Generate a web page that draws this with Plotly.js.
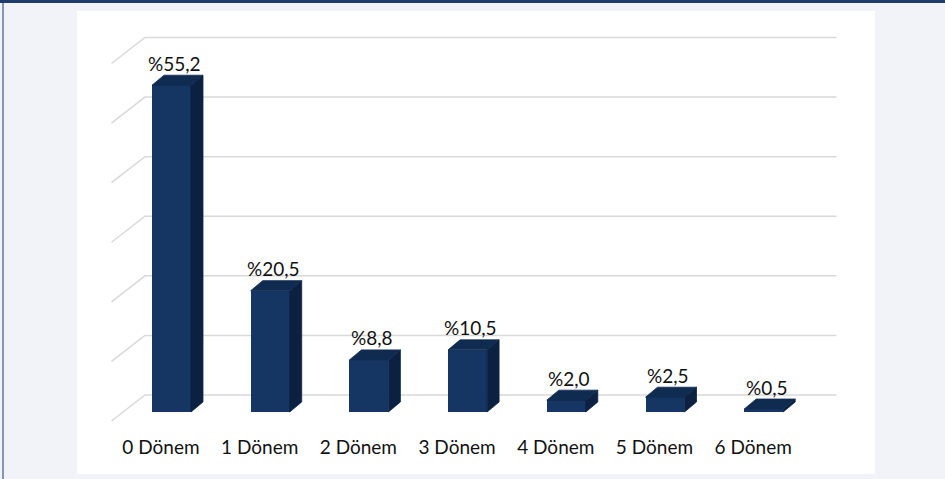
<!DOCTYPE html>
<html>
<head>
<meta charset="utf-8">
<script src="https://cdn.plot.ly/plotly-3.0.1.min.js"></script>
<style>
  html, body { margin: 0; padding: 0; background: #f2f3f8; }
  #wrap { position: relative; width: 945px; height: 479px; overflow: hidden; background: #f2f3f8; }
  #chart { width: 945px; height: 479px; }
  #topband { position: absolute; left: 0; top: 0; width: 945px; height: 3px; background: #1f3b6b; }
  #leftband { position: absolute; left: 2px; top: 3px; width: 2px; height: 476px; background: #8496b5; }
</style>
</head>
<body>
<div id="wrap">
  <div id="chart"></div>
  <div id="topband"></div>
  <div id="leftband"></div>
</div>
<script>
// ---- data ----
const categories = ["0 Dönem", "1 Dönem", "2 Dönem", "3 Dönem", "4 Dönem", "5 Dönem", "6 Dönem"];
const values = [55.2, 20.5, 8.8, 10.5, 2.0, 2.5, 0.5];
const gridValues = [0, 10, 20, 30, 40, 50, 60];

// ---- geometry (styling constants) ----
const barW = 0.395;      // front face width (x units)
const depX = 0.1216;     // bar depth offset in x
const depY = 1.69;       // bar depth offset in y2 units
const wallX0 = -0.2685, wallX1 = 6.7376; // back-wall gridline span
const floorX = -0.6079, floorDY = -4.364; // diagonal side-wall line end
const labelShift = -0.1064;

const xs = categories.map((c, i) => i);

// gridlines (back wall + side wall diagonals)
const gx = [], gy = [];
gridValues.forEach(g => {
  gx.push(floorX, wallX0, wallX1, null);
  gy.push(g + floorDY, g, g, null);
});

// top and side faces of 3D bars
const tx = [], ty = [], sx = [], sy = [];
values.forEach((v, i) => {
  const l = i - barW / 2, r = i + barW / 2;
  tx.push(l, r, r + depX, l + depX, l, null);
  ty.push(v, v, v + depY, v + depY, v, null);
  sx.push(r, r + depX, r + depX, r, r, null);
  sy.push(0, depY, v + depY, v, 0, null);
});

const traces = [
  { type: 'scatter', mode: 'lines', x: gx, y: gy, xaxis: 'x', yaxis: 'y',
    line: { color: '#d9d9d9', width: 1.5 }, hoverinfo: 'skip', showlegend: false, connectgaps: false },
  { type: 'bar', x: xs, y: values, width: barW, xaxis: 'x', yaxis: 'y2',
    marker: { color: '#153562', line: { width: 0 } }, showlegend: false, hoverinfo: 'skip' },
  { type: 'scatter', mode: 'lines', x: sx, y: sy, xaxis: 'x', yaxis: 'y2', fill: 'toself',
    fillcolor: '#0c2142', line: { width: 0.8, color: '#0c2142' }, showlegend: false, hoverinfo: 'skip' },
  { type: 'scatter', mode: 'lines', x: tx, y: ty, xaxis: 'x', yaxis: 'y2', fill: 'toself',
    fillcolor: '#102b50', line: { width: 0.8, color: '#102b50' }, showlegend: false, hoverinfo: 'skip' }
];

const fmt = v => '%' + v.toFixed(1).replace('.', ',');
const annotations = values.map((v, i) => ({
  x: i + 0.03, y: v, xref: 'x', yref: 'y2', text: fmt(v), showarrow: false,
  yanchor: 'middle', xanchor: 'center', yshift: 22,
  font: { family: 'Lato, sans-serif', size: 19, color: '#111111' }
}));

const layout = {
  width: 945, height: 479,
  margin: { l: 77, r: 70, t: 11, b: 5, pad: 0 },
  paper_bgcolor: '#f2f3f8',
  plot_bgcolor: '#ffffff',
  showlegend: false,
  bargap: 0,
  xaxis: {
    range: [-0.9574, 7.1277], showgrid: false, zeroline: false, showline: false,
    tickmode: 'array', tickvals: xs.map(x => x + labelShift), ticktext: categories,
    ticks: '', anchor: 'free', position: 0.0864,
    tickfont: { family: 'Lato, sans-serif', size: 19, color: '#111111' }, fixedrange: true
  },
  yaxis: {
    range: [-13.259, 64.451], showgrid: false, zeroline: false, showline: false,
    showticklabels: false, ticks: '', fixedrange: true
  },
  yaxis2: {
    range: [-10.473, 67.736], overlaying: 'y', showgrid: false, zeroline: false,
    showline: false, showticklabels: false, ticks: '', fixedrange: true
  },
  annotations: annotations
};

Plotly.newPlot('chart', traces, layout, { displayModeBar: false, staticPlot: true });
</script>
</body>
</html>
